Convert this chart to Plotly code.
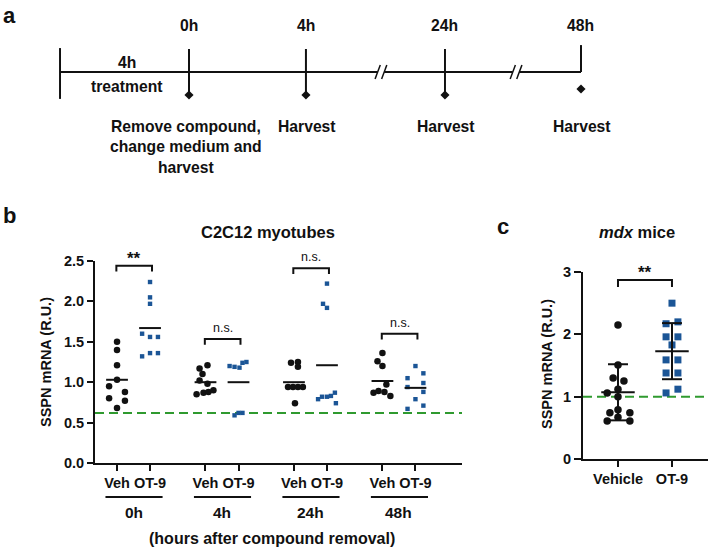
import plotly.graph_objects as go

# ---------------- data ----------------
# Panel a: experimental timeline (schematic positions)
timeline_labels = ["0h", "4h", "24h", "48h"]
timeline_pos = [0.0, 0.895, 1.959, 3.0]
treatment_start = -0.987
break_pos = [1.469, 2.503]
event_text = ["Remove compound,<br>change medium and<br>harvest", "Harvest", "Harvest", "Harvest"]

# Panel b: C2C12 myotubes
groups_b = ["0h", "4h", "24h", "48h"]
conds_b = ["Veh", "OT-9"]
veh_b = [
    [1.50, 1.40, 1.21, 1.03, 0.95, 0.88, 0.80, 0.77, 0.68],
    [1.21, 1.17, 1.10, 1.02, 0.98, 0.85, 0.87, 0.88, 0.90],
    [1.24, 1.25, 1.19, 0.94, 0.94, 0.94, 0.94, 0.74],
    [1.36, 1.26, 1.20, 0.87, 0.89, 0.88, 0.97, 0.83],
]
veh_b_jitter = [
    [0, 0, 0, 0, -0.24, 0.24, -0.24, 0.24, 0],
    [0.06, -0.18, -0.09, -0.18, 0.06, -0.27, -0.06, 0.09, 0.24],
    [-0.09, 0.12, 0.12, -0.18, -0.03, 0.12, 0.27, 0.03],
    [0, -0.15, 0, -0.27, -0.12, 0.06, 0.12, 0.24],
]
ot9_b = [
    [2.24, 2.05, 1.97, 1.60, 1.56, 1.56, 1.32, 1.36, 1.36],
    [1.20, 1.19, 1.18, 1.24, 1.25, 0.59, 0.62, 0.62],
    [2.22, 1.97, 1.92, 0.79, 0.82, 0.82, 0.83, 0.87, 0.74],
    [1.20, 1.05, 1.11, 0.99, 0.94, 0.88, 0.79, 0.71, 0.67],
]
ot9_b_jitter = [
    [0, 0, 0, -0.24, 0, 0.24, -0.24, 0, 0.24],
    [-0.27, -0.12, 0.03, 0.12, 0.24, -0.12, 0, 0.12],
    [0, -0.12, 0, -0.27, -0.15, 0, 0.12, 0.24, 0.27],
    [0, -0.24, 0.24, 0.24, -0.24, 0.24, 0, 0.24, -0.24],
]
veh_b_mean = [1.03, 1.00, 1.00, 1.015]
ot9_b_mean = [1.67, 1.00, 1.21, 0.93]
sig_b = ["**", "n.s.", "n.s.", "n.s."]
sig_b_level = [2.44, 1.535, 2.41, 1.60]
baseline_b = 0.62
yticks_b = [0.0, 0.5, 1.0, 1.5, 2.0, 2.5]

# Panel c: mdx mice
conds_c = ["Vehicle", "OT-9"]
veh_c = [2.15, 1.51, 1.30, 1.25, 1.12, 1.06, 1.00, 0.79, 0.74, 0.74, 0.67, 0.61, 0.61]
veh_c_jitter = [0, 0, -0.09, 0.11, 0, -0.2, 0, 0, -0.15, 0.22, 0, -0.2, 0.22]
ot9_c = [2.50, 2.17, 2.20, 1.96, 1.96, 1.83, 1.59, 1.59, 1.38, 1.38, 1.06, 1.12]
ot9_c_jitter = [0, -0.11, 0.11, -0.11, 0.11, 0, -0.11, 0.11, -0.11, 0.11, -0.11, 0.11]
c_center = [1.07, 1.73]
c_low = [0.62, 1.28]
c_high = [1.52, 2.18]
sig_c = "**"
sig_c_level = 2.87
baseline_c = 1.0
yticks_c = [0, 1, 2, 3]

# ---------------- style ----------------
W, H = 708, 548
BLACK = "#111111"
BLUE = "#1b5596"
GREEN = "#2f9a2f"
FONT = "Liberation Sans, Arial, sans-serif"
GROUP_STEP = 2.68


def py(p):
    return (H - p) / H


def px(p):
    return p / W


fig = go.Figure()

# ---------------- panel b ----------------
veh_pos = [g * GROUP_STEP for g in range(len(groups_b))]
ot_pos = [g * GROUP_STEP + 1 for g in range(len(groups_b))]

vx, vy, ox, oy = [], [], [], []
for g in range(len(groups_b)):
    vx += [veh_pos[g] + j for j in veh_b_jitter[g]]
    vy += veh_b[g]
    ox += [ot_pos[g] + j for j in ot9_b_jitter[g]]
    oy += ot9_b[g]

xr_b = [-0.667, 10.45]
fig.add_trace(go.Scatter(x=xr_b, y=[baseline_b, baseline_b], mode="lines",
                         line=dict(color=GREEN, width=2, dash="9px,5px"),
                         xaxis="x", yaxis="y", hoverinfo="skip"))
fig.add_trace(go.Scatter(x=vx, y=vy, mode="markers", cliponaxis=False,
                         marker=dict(symbol="circle", size=6.5, color=BLACK),
                         xaxis="x", yaxis="y"))
fig.add_trace(go.Scatter(x=ox, y=oy, mode="markers", cliponaxis=False,
                         marker=dict(symbol="square", size=4.4, color=BLUE),
                         xaxis="x", yaxis="y"))
mx, my = [], []
half = 0.33
for g in range(len(groups_b)):
    mx += [veh_pos[g] - half, veh_pos[g] + half, None, ot_pos[g] - half, ot_pos[g] + half, None]
    my += [veh_b_mean[g], veh_b_mean[g], None, ot9_b_mean[g], ot9_b_mean[g], None]
fig.add_trace(go.Scatter(x=mx, y=my, mode="lines", line=dict(color=BLACK, width=2),
                         xaxis="x", yaxis="y"))
bx, byy = [], []
drop = 0.07
for g in range(len(groups_b)):
    x0, x1 = veh_pos[g] - 0.02, ot_pos[g] + 0.06
    lv = sig_b_level[g]
    bx += [x0, x0, x1, x1, None]
    byy += [lv - drop, lv, lv, lv - drop, None]
fig.add_trace(go.Scatter(x=bx, y=byy, mode="lines", line=dict(color=BLACK, width=2),
                         xaxis="x", yaxis="y"))

# ---------------- panel c ----------------
xr_c = [-0.648, 1.667]
fig.add_trace(go.Scatter(x=xr_c, y=[baseline_c, baseline_c], mode="lines",
                         line=dict(color=GREEN, width=2, dash="9px,5px"),
                         xaxis="x2", yaxis="y2"))
fig.add_trace(go.Scatter(x=[0 + j for j in veh_c_jitter], y=veh_c, mode="markers",
                         marker=dict(symbol="circle", size=7.5, color=BLACK),
                         xaxis="x2", yaxis="y2"))
fig.add_trace(go.Scatter(x=[1 + j for j in ot9_c_jitter], y=ot9_c, mode="markers",
                         marker=dict(symbol="square", size=7, color=BLUE),
                         xaxis="x2", yaxis="y2"))
ex, ey = [], []
mh, ch = 0.31, 0.185
for i in range(2):
    ex += [i - mh, i + mh, None, i, i, None, i - ch, i + ch, None, i - ch, i + ch, None]
    ey += [c_center[i], c_center[i], None, c_low[i], c_high[i], None,
           c_low[i], c_low[i], None, c_high[i], c_high[i], None]
fig.add_trace(go.Scatter(x=ex, y=ey, mode="lines", line=dict(color=BLACK, width=2),
                         xaxis="x2", yaxis="y2"))
fig.add_trace(go.Scatter(x=[0, 0, 1, 1], y=[sig_c_level - 0.11, sig_c_level, sig_c_level, sig_c_level - 0.11],
                         mode="lines", line=dict(color=BLACK, width=2), xaxis="x2", yaxis="y2"))

# ---------------- panel a (timeline) ----------------
gap = 0.025
hx = [treatment_start]
for b in break_pos:
    hx += [b - gap, None, b + gap]
hx += [timeline_pos[-1]]
hy = [0 if v is not None else None for v in hx]
fig.add_trace(go.Scatter(x=hx, y=hy, mode="lines", line=dict(color=BLACK, width=2.2),
                         xaxis="x3", yaxis="y3"))
sx, sy = [], []
for b in break_pos:
    for d in (-gap, gap):
        sx += [b + d - 0.02, b + d + 0.02, None]
        sy += [-0.3, 0.3, None]
fig.add_trace(go.Scatter(x=sx, y=sy, mode="lines", line=dict(color=BLACK, width=1.5),
                         xaxis="x3", yaxis="y3"))
tx, ty = [treatment_start, treatment_start, None], [1.04, -1.17, None]
for i, p in enumerate(timeline_pos):
    if i < len(timeline_pos) - 1:
        tx += [p, p, None]
        ty += [1.0, -1.0, None]
    else:
        tx += [p, p, None]
        ty += [1.17, 0, None]
fig.add_trace(go.Scatter(x=tx, y=ty, mode="lines", line=dict(color=BLACK, width=2),
                         xaxis="x3", yaxis="y3"))
dy = [-1.0, -1.0, -1.0, -0.74]
fig.add_trace(go.Scatter(x=timeline_pos, y=dy, mode="markers",
                         marker=dict(symbol="diamond", size=7, color=BLACK),
                         xaxis="x3", yaxis="y3"))

# ---------------- annotations ----------------
ann = []


def A(text, x, y, size, xref="paper", yref="paper", weight="bold", **kw):
    d = dict(text=text, x=x, y=y, xref=xref, yref=yref, showarrow=False,
             xanchor="center", yanchor="middle",
             font=dict(family=FONT, size=size, color=BLACK, weight=weight))
    d.update(kw)
    ann.append(d)


A("a", 0.0, 1.0, 22, xanchor="left", yanchor="top", xshift=1, yshift=-1)
A("b", px(9), py(215), 22)
A("c", px(503), py(226), 22)

TL = 15.7
for lab, p in zip(timeline_labels, timeline_pos):
    A(lab, p, 2.0, TL, xref="x3", yref="y3")
A("4h", -0.474, 0.43, TL, xref="x3", yref="y3")
A("treatment", -0.474, -0.65, TL, xref="x3", yref="y3")
for i, (t, p) in enumerate(zip(event_text, timeline_pos)):
    xx = p - 0.02 if i == 0 else p + 0.01
    A(t, xx, -1.9, TL, xref="x3", yref="y3", yanchor="top")

A("C2C12 myotubes", px(268), py(232), 16.5)
A("<i>mdx</i> mice", px(637), py(232), 16.5)
A("SSPN mRNA (R.U.)", px(46), py(362), 14.5, textangle=-90)
A("SSPN mRNA (R.U.)", px(547), py(364), 14.5, textangle=-90)

for g, lab in enumerate(groups_b):
    A(lab, veh_pos[g] + 0.5, py(512), 15.5, xref="x")
A("(hours after compound removal)", px(272), py(538), 16)

for g, s in enumerate(sig_b):
    if s == "**":
        A(s, veh_pos[g] + 0.52, sig_b_level[g], 17, xref="x", yref="y",
          yanchor="bottom", yshift=-4)
    else:
        A(s, veh_pos[g] + 0.52, sig_b_level[g], 12.5, xref="x", yref="y", weight="normal",
          yanchor="bottom", yshift=2)
A(sig_c, 0.5, sig_c_level, 17, xref="x2", yref="y2", yanchor="bottom", yshift=-4)

shapes = []
for g in range(len(groups_b)):
    shapes.append(dict(type="line", xref="x", yref="paper",
                       x0=veh_pos[g] - 0.35, x1=ot_pos[g] + 0.38, y0=py(497), y1=py(497),
                       line=dict(color=BLACK, width=2)))

axis_common = dict(showgrid=False, zeroline=False, showline=True, linecolor=BLACK,
                   linewidth=2, ticks="outside", tickcolor=BLACK, tickwidth=2,
                   tickfont=dict(family=FONT, size=14.5, color=BLACK, weight="bold"))

fig.update_layout(
    width=W, height=H, margin=dict(l=0, r=0, t=0, b=0, autoexpand=False),
    paper_bgcolor="white", plot_bgcolor="rgba(0,0,0,0)", showlegend=False,
    xaxis=dict(domain=[px(95), px(462)], range=xr_b, anchor="y", ticklen=6,
               tickvals=[p for pair in zip(veh_pos, ot_pos) for p in pair],
               ticktext=conds_b * len(groups_b), **axis_common),
    yaxis=dict(domain=[py(463), py(261)], range=[0, 2.5], anchor="x", ticklen=6,
               tickvals=yticks_b, ticktext=[f"{v:.1f}" for v in yticks_b], **axis_common),
    xaxis2=dict(domain=[px(583), 1.0], range=xr_c, anchor="y2", ticklen=6,
                tickvals=[0, 1], ticktext=conds_c, **axis_common),
    yaxis2=dict(domain=[py(459), py(272)], range=[0, 3], anchor="x2", ticklen=7,
                tickvals=yticks_c, ticktext=[str(v) for v in yticks_c], **axis_common),
    xaxis3=dict(domain=[0, 1], range=[-1.4464, 3.972], anchor="y3", visible=False),
    yaxis3=dict(domain=[py(175), 1.0], range=[-4.478, 3.13], anchor="x3", visible=False),
    annotations=ann, shapes=shapes,
)

fig.write_html("out.html", config={"displayModeBar": False},
               post_script="document.body.style.margin='0';document.body.style.overflow='hidden';")
